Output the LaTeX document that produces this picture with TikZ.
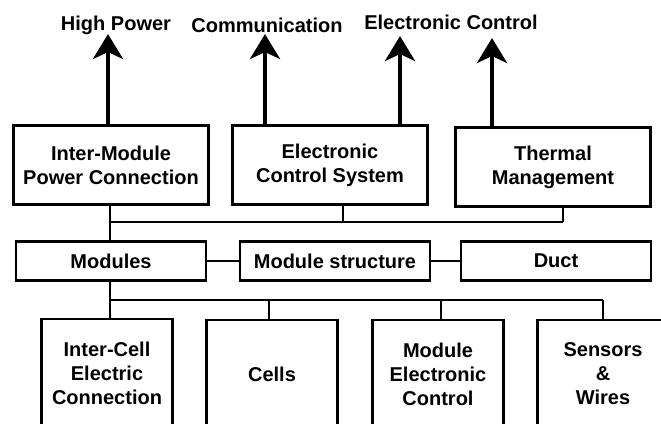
\documentclass[tikz,border=0pt]{standalone}
\usepackage{fontspec}
\setmainfont{Liberation Sans}
\usetikzlibrary{arrows.meta,positioning}

\begin{document}
\begin{tikzpicture}[x=1pt,y=-1pt,
        blk/.style={draw, line width=2.5pt, align=center, inner sep=0pt,
            font=\bfseries\fontsize{20}{24}\selectfont},
        topblk/.style={blk, minimum width=195pt, minimum height=79pt},
        midblk/.style={blk, minimum width=190pt, minimum height=39pt},
        lowblk/.style={blk, minimum width=131pt, minimum height=108pt},
        lbl/.style={inner sep=0pt, font=\bfseries\fontsize{20}{24}\selectfont},
        wire/.style={line width=2.5pt},
        up/.style={line width=4pt, -{Stealth[length=25pt,width=30pt,inset=7pt]}}]
    \useasboundingbox (0,0) rectangle (661,423);
    \clip (0,0) rectangle (661,423);

    % top row
    \node[topblk] (impc) at (111,165) {Inter-Module\\Power Connection};
    \node[topblk] (ecs) at (330,165) {Electronic\\Control System};
    \node[topblk] (therm) at (553,167) {Thermal\\Management};

    % outputs
    \node[lbl] (hp) at (116,25) {High Power};
    \node[lbl] (comm) at (267,25) {Communication};
    \node[lbl] (ectl) at (451,22) {Electronic Control};
    \coordinate (hptip) at (108,34);
    \coordinate (commtip) at (265,34);
    \coordinate (ectip1) at (400,36);
    \coordinate (ectip2) at (492,38);
    \draw[up] (impc.north -| hptip) -- (hptip);
    \draw[up] (ecs.north -| commtip) -- (commtip);
    \draw[up] (ecs.north -| ectip1) -- (ectip1);
    \draw[up] (therm.north -| ectip2) -- (ectip2);

    % middle row
    \node[midblk] (mods) at (111,261) {Modules};
    \node[midblk] (mstruct) at (335,261) {Module structure};
    \node[midblk] (duct) at (556,261) {Duct};
    \draw[wire] (mods) -- (mstruct);
    \draw[wire] (mstruct) -- (duct);

    % upper bus
    \coordinate (ja) at (110,222);
    \coordinate (jb) at (343,222);
    \coordinate (jc) at (563,222);
    \draw[wire] (impc.south -| ja) -- (mods.north -| ja);
    \draw[wire] (ja) -- (jc);
    \draw[wire] (ecs.south -| jb) -- (jb);
    \draw[wire] (therm.south -| jc) -- (jc);

    % bottom row
    \node[lowblk] (icec) at (107,373) {Inter-Cell\\Electric\\Connection};
    \node[lowblk] (cells) at (272,374) {Cells};
    \node[lowblk] (mec) at (438,374) {Module\\Electronic\\Control};
    \node[lowblk] (sw) at (603,374) {Sensors\\\&\\Wires};

    % lower bus
    \coordinate (ka) at (110,300);
    \coordinate (kb) at (269,300);
    \coordinate (kc) at (441,300);
    \coordinate (kd) at (603,300);
    \draw[wire] (mods.south -| ka) -- (icec.north -| ka);
    \draw[wire] (ka) -- (kd);
    \foreach \k/\b in {kb/cells,kc/mec,kd/sw}{
        \draw[wire] (\k) -- (\b.north -| \k);
    }
\end{tikzpicture}
\end{document}
